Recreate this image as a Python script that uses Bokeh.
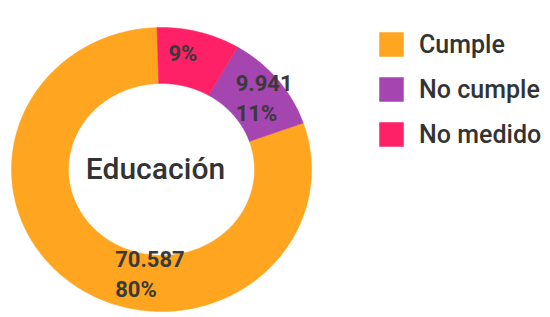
import numpy as np
from bokeh.plotting import figure
from bokeh.models import Range1d, ColumnDataSource, Legend, LegendItem
from bokeh.core.properties import value
from bokeh.embed import file_html
from bokeh.resources import INLINE

# ---- data ----
categories = ["Cumple", "No cumple", "No medido"]
values = [70587, 9941, 7900]
colors = ["#FFA51F", "#A445B0", "#FF2167"]
show_value = [True, True, False]
center_title = "Educación"

# ---- layout ----
W, H = 550, 317
cx, cy = 161, 169
rx_out, ry_out = 150, 142
rx_in, ry_in = 93, 86
label_frac = [0.4, 0.57, 0.36]  # position of label along each slice
label_rad = [0.93, 1.05, 1.03]  # radial position of label (1 = mid ring)
FONT = "Roboto"
FONT_MED = "Roboto Medium"

p = figure(width=W, height=H, output_backend="svg", toolbar_location=None,
           x_range=Range1d(0, W), y_range=Range1d(H, 0),
           min_border=0, outline_line_color=None)
p.axis.visible = False
p.grid.visible = False
p.background_fill_color = "white"
p.border_fill_color = "white"

total = float(sum(values))
fracs = [v / total for v in values]

# draw clockwise from top: No medido, No cumple, Cumple
order = [2, 1, 0]
start = -0.03
xs, ys = {}, {}
lab_x, lab_y, lab_t = [], [], []
for i in order:
    span = fracs[i] * 2 * np.pi
    t = np.linspace(start, start + span, 200)
    ox = cx + rx_out * np.sin(t)
    oy = cy - ry_out * np.cos(t)
    ix = cx + rx_in * np.sin(t[::-1])
    iy = cy - ry_in * np.cos(t[::-1])
    xs[i] = list(np.concatenate([ox, ix]))
    ys[i] = list(np.concatenate([oy, iy]))
    la = start + label_frac[i] * span
    rmx = label_rad[i] * (rx_out + rx_in) / 2
    rmy = label_rad[i] * (ry_out + ry_in) / 2
    lab_x.append(cx + rmx * np.sin(la))
    lab_y.append(cy - rmy * np.cos(la))
    pct = f"{round(fracs[i] * 100):d}%"
    if show_value[i]:
        txt = f"{values[i]:,}".replace(",", ".") + "\n" + pct
    else:
        txt = pct
    lab_t.append(txt)
    start += span

items = []
for i, cat in enumerate(categories):
    src = ColumnDataSource(dict(xs=[xs[i]], ys=[ys[i]]))
    r = p.patches("xs", "ys", source=src, fill_color=colors[i],
                  line_color=colors[i], line_width=0.5)
    items.append(LegendItem(label=cat, renderers=[r]))

lsrc = ColumnDataSource(dict(x=lab_x, y=lab_y, t=lab_t))
p.text("x", "y", text="t", source=lsrc, anchor="center", text_align="left",
       text_font=value(FONT), text_font_style="bold", text_font_size="22px",
       text_color="#3a3a3a", text_line_height=1.2)

p.text(x=[155], y=[168], text=[center_title], anchor="center",
       text_align="center", text_font=value(FONT_MED), text_font_size="30px",
       text_color="#333333")

legend = Legend(items=items, location=(376, 168), orientation="vertical",
                glyph_width=30, glyph_height=30, spacing=15,
                label_standoff=13, padding=0, margin=0,
                label_text_font=FONT_MED, label_text_font_size="25px",
                label_text_color="#333333",
                border_line_color=None, background_fill_alpha=0)
p.add_layout(legend)

open("out.html", "w").write(file_html(p, INLINE))
